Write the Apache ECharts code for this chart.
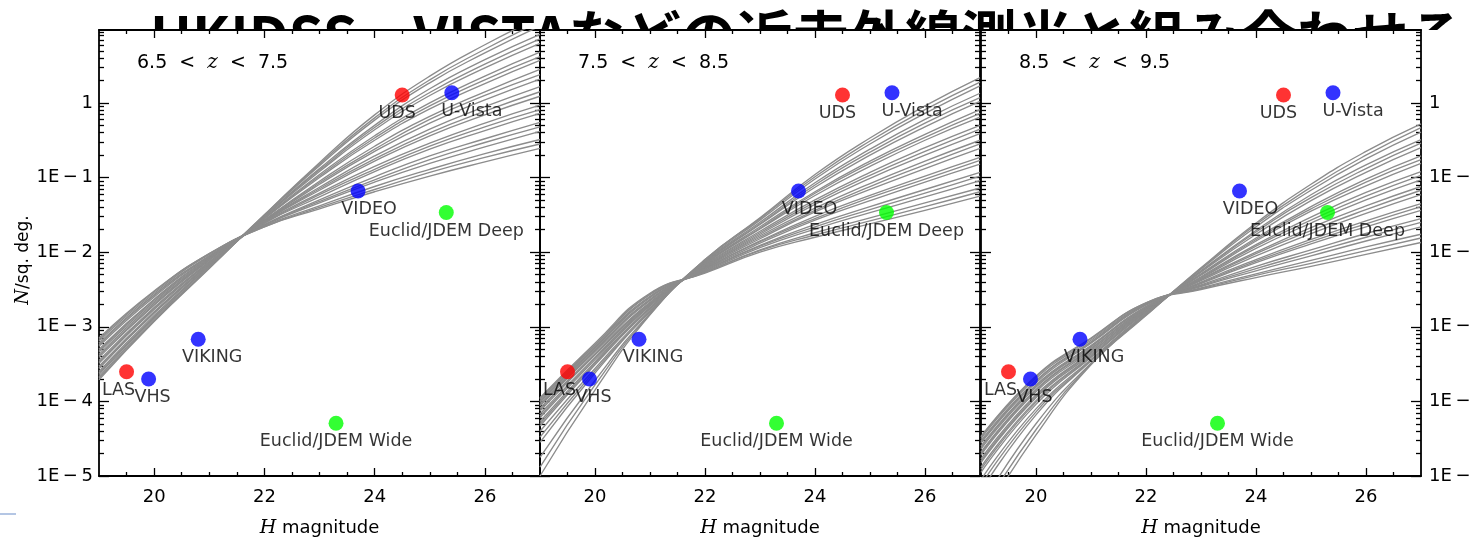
<!DOCTYPE html>
<html>
<head>
<meta charset="utf-8">
<script src="https://cdn.jsdelivr.net/npm/echarts@6/dist/echarts.min.js"></script>
<style>
html,body{margin:0;padding:0;background:#fff;}
#chart{width:1472px;height:538px;}
</style>
</head>
<body>
<div id="chart"></div>
<script>
// ---------------- data ----------------
const pageTitle = 'UKIDSS、VISTAなどの近赤外線測光と組み合わせる';
const zRanges = [[6.5, 7.5], [7.5, 8.5], [8.5, 9.5]];
const hMags = [19, 20, 21, 22, 23, 24, 25, 26, 27];

// log10(N / sq. deg.) of the grey model curves, read at hMags, per panel
const panel1Log10 = [
  [-3.71,-2.93,-2.22,-1.50,-0.80,-0.16, 0.36, 0.78, 1.15],
  [-3.69,-2.92,-2.21,-1.50,-0.82,-0.20, 0.31, 0.72, 1.09],
  [-3.67,-2.90,-2.21,-1.51,-0.84,-0.23, 0.27, 0.67, 1.03],
  [-3.64,-2.88,-2.19,-1.52,-0.88,-0.30, 0.19, 0.58, 0.92],
  [-3.62,-2.87,-2.19,-1.52,-0.90,-0.33, 0.14, 0.52, 0.86],
  [-3.60,-2.85,-2.18,-1.53,-0.92,-0.36, 0.10, 0.47, 0.80],
  [-3.56,-2.82,-2.17,-1.54,-0.96,-0.44, 0.00, 0.36, 0.68],
  [-3.55,-2.81,-2.16,-1.55,-0.98,-0.47,-0.04, 0.31, 0.62],
  [-3.53,-2.80,-2.15,-1.55,-1.00,-0.50,-0.08, 0.26, 0.57],
  [-3.49,-2.77,-2.14,-1.57,-1.05,-0.58,-0.18, 0.15, 0.45],
  [-3.47,-2.75,-2.13,-1.57,-1.07,-0.62,-0.22, 0.10, 0.38],
  [-3.45,-2.74,-2.13,-1.58,-1.09,-0.65,-0.27, 0.04, 0.32],
  [-3.41,-2.71,-2.11,-1.58,-1.13,-0.71,-0.35,-0.05, 0.22],
  [-3.39,-2.70,-2.10,-1.59,-1.15,-0.75,-0.40,-0.11, 0.15],
  [-3.37,-2.68,-2.10,-1.59,-1.17,-0.78,-0.44,-0.16, 0.09],
  [-3.34,-2.66,-2.09,-1.60,-1.21,-0.85,-0.54,-0.27,-0.03],
  [-3.32,-2.64,-2.08,-1.61,-1.23,-0.89,-0.58,-0.32,-0.09],
  [-3.30,-2.63,-2.07,-1.61,-1.26,-0.92,-0.62,-0.37,-0.14],
  [-3.26,-2.60,-2.06,-1.63,-1.30,-0.99,-0.71,-0.48,-0.26],
  [-3.24,-2.58,-2.05,-1.63,-1.32,-1.03,-0.76,-0.53,-0.32],
  [-3.22,-2.57,-2.05,-1.64,-1.34,-1.06,-0.81,-0.59,-0.38],
  [-3.19,-2.55,-2.03,-1.65,-1.38,-1.12,-0.89,-0.68,-0.49],
  [-3.17,-2.53,-2.02,-1.66,-1.40,-1.16,-0.93,-0.73,-0.55],
  [-3.15,-2.52,-2.02,-1.66,-1.42,-1.19,-0.98,-0.79,-0.61]
];
const panel2Log10 = [
  [-5.00,-3.85,-2.84,-2.10,-1.54,-0.96,-0.47,-0.04, 0.34],
  [-4.88,-3.78,-2.83,-2.10,-1.55,-0.99,-0.51,-0.09, 0.28],
  [-4.75,-3.72,-2.82,-2.11,-1.57,-1.02,-0.55,-0.14, 0.23],
  [-4.55,-3.62,-2.80,-2.12,-1.60,-1.07,-0.62,-0.22, 0.13],
  [-4.48,-3.59,-2.79,-2.13,-1.62,-1.10,-0.66,-0.27, 0.07],
  [-4.40,-3.56,-2.78,-2.14,-1.63,-1.13,-0.70,-0.32, 0.02],
  [-4.33,-3.51,-2.76,-2.15,-1.66,-1.19,-0.78,-0.42,-0.09],
  [-4.30,-3.49,-2.75,-2.15,-1.68,-1.21,-0.81,-0.46,-0.14],
  [-4.27,-3.47,-2.74,-2.16,-1.69,-1.24,-0.85,-0.50,-0.19],
  [-4.22,-3.44,-2.72,-2.17,-1.72,-1.30,-0.93,-0.60,-0.30],
  [-4.20,-3.42,-2.71,-2.18,-1.74,-1.33,-0.97,-0.65,-0.35],
  [-4.17,-3.41,-2.70,-2.19,-1.76,-1.36,-1.01,-0.70,-0.41],
  [-4.13,-3.38,-2.69,-2.20,-1.78,-1.41,-1.08,-0.78,-0.50],
  [-4.11,-3.37,-2.68,-2.20,-1.80,-1.44,-1.12,-0.83,-0.55],
  [-4.09,-3.36,-2.67,-2.21,-1.82,-1.46,-1.16,-0.88,-0.61],
  [-4.06,-3.33,-2.65,-2.22,-1.85,-1.52,-1.24,-0.98,-0.73],
  [-4.05,-3.32,-2.64,-2.22,-1.86,-1.55,-1.27,-1.02,-0.77],
  [-4.03,-3.31,-2.63,-2.23,-1.88,-1.57,-1.31,-1.06,-0.82],
  [-4.01,-3.29,-2.61,-2.24,-1.91,-1.63,-1.39,-1.16,-0.93],
  [-4.00,-3.28,-2.60,-2.25,-1.92,-1.66,-1.43,-1.21,-0.98],
  [-3.99,-3.27,-2.59,-2.26,-1.94,-1.69,-1.47,-1.26,-1.04],
  [-3.97,-3.25,-2.57,-2.27,-1.97,-1.74,-1.54,-1.34,-1.14],
  [-3.96,-3.24,-2.56,-2.27,-1.98,-1.77,-1.58,-1.39,-1.19],
  [-3.95,-3.22,-2.55,-2.28,-2.00,-1.80,-1.62,-1.44,-1.25]
];
const panel3Log10 = [
  [-5.60,-4.45,-3.51,-2.85,-2.21,-1.61,-1.09,-0.65,-0.28],
  [-5.50,-4.38,-3.50,-2.84,-2.22,-1.63,-1.13,-0.70,-0.33],
  [-5.40,-4.30,-3.49,-2.84,-2.23,-1.66,-1.17,-0.75,-0.39],
  [-5.20,-4.18,-3.46,-2.83,-2.25,-1.71,-1.23,-0.83,-0.49],
  [-5.12,-4.14,-3.45,-2.82,-2.26,-1.73,-1.27,-0.88,-0.54],
  [-5.05,-4.10,-3.44,-2.82,-2.27,-1.76,-1.31,-0.93,-0.60],
  [-4.95,-4.04,-3.41,-2.80,-2.29,-1.81,-1.39,-1.02,-0.71],
  [-4.91,-4.01,-3.40,-2.80,-2.30,-1.83,-1.42,-1.06,-0.76],
  [-4.88,-3.99,-3.39,-2.79,-2.31,-1.85,-1.45,-1.11,-0.81],
  [-4.82,-3.95,-3.37,-2.78,-2.33,-1.90,-1.53,-1.20,-0.92],
  [-4.80,-3.93,-3.35,-2.77,-2.34,-1.92,-1.57,-1.25,-0.97],
  [-4.77,-3.91,-3.34,-2.77,-2.35,-1.95,-1.61,-1.30,-1.03],
  [-4.72,-3.87,-3.32,-2.76,-2.36,-2.00,-1.67,-1.38,-1.12],
  [-4.70,-3.85,-3.30,-2.75,-2.37,-2.02,-1.71,-1.43,-1.17],
  [-4.68,-3.84,-3.29,-2.75,-2.38,-2.05,-1.75,-1.48,-1.23],
  [-4.64,-3.81,-3.27,-2.74,-2.40,-2.10,-1.83,-1.58,-1.35],
  [-4.62,-3.79,-3.26,-2.73,-2.41,-2.12,-1.86,-1.62,-1.39],
  [-4.60,-3.78,-3.25,-2.73,-2.42,-2.14,-1.89,-1.66,-1.44],
  [-4.56,-3.75,-3.22,-2.71,-2.44,-2.19,-1.97,-1.75,-1.55],
  [-4.55,-3.73,-3.21,-2.70,-2.45,-2.22,-2.01,-1.80,-1.60],
  [-4.53,-3.72,-3.20,-2.70,-2.46,-2.25,-2.05,-1.85,-1.66],
  [-4.50,-3.69,-3.18,-2.69,-2.48,-2.29,-2.11,-1.93,-1.76],
  [-4.48,-3.67,-3.16,-2.68,-2.49,-2.31,-2.15,-1.98,-1.81],
  [-4.47,-3.66,-3.15,-2.68,-2.50,-2.34,-2.19,-2.03,-1.87]
];
const panelCurves = [panel1Log10, panel2Log10, panel3Log10];

// surveys (same in each panel)
const surveyNames = ['LAS', 'VHS', 'VIKING', 'VIDEO', 'UDS', 'U-Vista', 'Euclid/JDEM Deep', 'Euclid/JDEM Wide'];
const surveyH     = [19.5, 19.9, 20.8, 23.7, 24.5, 25.4, 25.3, 23.3];
const surveyN     = [2.5e-4, 2.0e-4, 6.8e-4, 0.066, 1.28, 1.37, 0.034, 5.1e-5];
const surveyGroup = ['UKIDSS', 'VISTA', 'VISTA', 'VISTA', 'UKIDSS', 'VISTA', 'Euclid', 'Euclid'];

// axis ticks
const xMajorTicks = [20, 22, 24, 26];
const xMinorTicks = [19.5, 20.5, 21, 21.5, 22.5, 23, 23.5, 24.5, 25, 25.5, 26.5];
const yMajorTicks = [1e-5, 1e-4, 1e-3, 1e-2, 1e-1, 1];
const yTickLabels = ['1E\u2009\u2212\u20095', '1E\u2009\u2212\u20094', '1E\u2009\u2212\u20093',
                     '1E\u2009\u2212\u20092', '1E\u2009\u2212\u20091', '1'];
const yMultipliers = [2, 3, 4, 5, 6, 7, 8, 9];

// ---------------- styles ----------------
const X_MIN = 19, X_MAX = 27, Y_MIN = 1e-5, Y_MAX = 9.5;
const groupColor = { UKIDSS: '#ff0000', VISTA: '#0000ff', Euclid: '#00ff00' };
const labelOffset = { 'LAS': [-8, 0], 'VHS': [4, 0], 'VIKING': [14, 0], 'VIDEO': [11, 0],
                      'UDS': [-5, 0], 'U-Vista': [20, 0] };
const FONT = 'DejaVu Sans';
const grids = [
  { left: 99, top: 30, width: 441, height: 446 },
  { left: 540, top: 30, width: 440, height: 446 },
  { left: 981, top: 30, width: 440, height: 446 }
];

const yMinorTicks = [];
for (let e = -5; e <= 0; e++) {
  yMultipliers.forEach(m => {
    const v = m * Math.pow(10, e);
    if (v < Y_MAX) yMinorTicks.push(v);
  });
}
function yLabel(v) {
  const e = Math.round(Math.log10(v));
  const i = yMajorTicks.findIndex(t => Math.round(Math.log10(t)) === e);
  return i >= 0 ? yTickLabels[i] : '';
}

const xAxes = [], yAxes = [], series = [], titles = [];

titles.push({
  text: pageTitle, left: 150, top: 8, padding: 0, z: -5, zlevel: 0,
  textStyle: { fontFamily: 'Noto Sans CJK JP', fontSize: 56, fontWeight: 'bold', color: '#000' }
});

grids.forEach((g, gi) => {
  ['bottom', 'top'].forEach(pos => {
    ['major', 'minor'].forEach(kind => {
      const ax = {
        type: 'value', gridIndex: gi, position: pos, min: X_MIN, max: X_MAX,
        axisLine: { show: kind === 'major', onZero: false, lineStyle: { color: '#000', width: 1.8 } },
        axisTick: { show: true, inside: true, length: kind === 'major' ? 8 : 4,
                    lineStyle: { color: '#000', width: 1.3 },
                    customValues: kind === 'major' ? xMajorTicks : xMinorTicks },
        axisLabel: { show: kind === 'major' && pos === 'bottom', customValues: xMajorTicks,
                     fontFamily: FONT, fontSize: 18, color: '#000', margin: 12 },
        splitLine: { show: false }
      };
      if (kind === 'major' && pos === 'bottom') {
        ax.name = '{i|H} magnitude';
        ax.nameLocation = 'middle';
        ax.nameGap = 43;
        ax.nameTextStyle = { fontFamily: FONT, fontSize: 18, color: '#000',
          rich: { i: { fontFamily: 'DejaVu Serif', fontStyle: 'italic', fontSize: 19, color: '#000' } } };
      }
      xAxes.push(ax);
    });
  });
  ['left', 'right'].forEach(pos => {
    ['major', 'minor'].forEach(kind => {
      const showLab = kind === 'major' && ((pos === 'left' && gi === 0) || (pos === 'right' && gi === 2));
      const ax = {
        type: 'log', logBase: 10, gridIndex: gi, position: pos, min: Y_MIN, max: Y_MAX,
        axisLine: { show: kind === 'major', onZero: false, lineStyle: { color: '#000', width: 1.8 } },
        axisTick: { show: true, inside: true, length: kind === 'major' ? 10 : 5,
                    lineStyle: { color: '#000', width: 1.3 },
                    customValues: kind === 'major' ? yMajorTicks : yMinorTicks },
        axisLabel: { show: showLab, customValues: yMajorTicks, formatter: yLabel,
                     fontFamily: FONT, fontSize: 18, color: '#000', margin: pos === 'left' ? 6 : 8 },
        splitLine: { show: false }
      };
      if (kind === 'major' && pos === 'left' && gi === 0) {
        ax.name = '{i|N}/sq. deg.';
        ax.nameLocation = 'middle';
        ax.nameRotate = 90;
        ax.nameGap = 56;
        ax.nameTextStyle = { fontFamily: FONT, fontSize: 17, color: '#000', padding: [0, 14, 0, 0],
          rich: { i: { fontFamily: 'DejaVu Serif', fontStyle: 'italic', fontSize: 18, color: '#000' } } };
      }
      yAxes.push(ax);
    });
  });

  titles.push({
    text: zRanges[gi][0] + '  <  {i|z}  <  ' + zRanges[gi][1],
    left: g.left + 38, top: 53, padding: 0,
    textStyle: { fontFamily: FONT, fontSize: 19, fontWeight: 'normal', color: '#000',
      rich: { i: { fontFamily: 'DejaVu Serif', fontStyle: 'italic', fontSize: 20, color: '#000' } } }
  });

  panelCurves[gi].forEach(curve => {
    series.push({
      type: 'line', xAxisIndex: gi * 4, yAxisIndex: gi * 4,
      data: hMags.map((h, i) => [h, Math.pow(10, curve[i])]),
      showSymbol: false, smooth: 0.5, clip: true, silent: true, z: 2,
      lineStyle: { color: '#8c8c8c', width: 1.35 }
    });
  });

  series.push({
    type: 'scatter', xAxisIndex: gi * 4, yAxisIndex: gi * 4, symbolSize: 15, z: 5, silent: true,
    data: surveyNames.map((n, i) => ({
      name: n, value: [surveyH[i], surveyN[i]],
      itemStyle: { color: groupColor[surveyGroup[i]] },
      label: { offset: labelOffset[n] || [0, 0] }
    })),
    label: { show: true, position: 'bottom', distance: 2, formatter: p => p.name,
             fontFamily: FONT, fontSize: 17.5, color: '#000' }
  });
});

const chart = echarts.init(document.getElementById('chart'), null, { renderer: 'canvas' });
chart.setOption({
  backgroundColor: '#fff',
  animation: false,
  title: titles,
  grid: grids.map(g => Object.assign({ show: true, backgroundColor: '#fff', borderWidth: 0,
                                       containLabel: false, outerBoundsMode: 'none' }, g)),
  xAxis: xAxes,
  yAxis: yAxes,
  series: series,
  graphic: [
    { type: 'rect', left: 0, top: 30, z: -4, silent: true, shape: { width: 1472, height: 508 }, style: { fill: '#fff' } },
    { type: 'rect', left: 0, top: 513, z: 1, silent: true, shape: { width: 16, height: 2 }, style: { fill: '#b4c6e4' } }
  ]
});
</script>
</body>
</html>
